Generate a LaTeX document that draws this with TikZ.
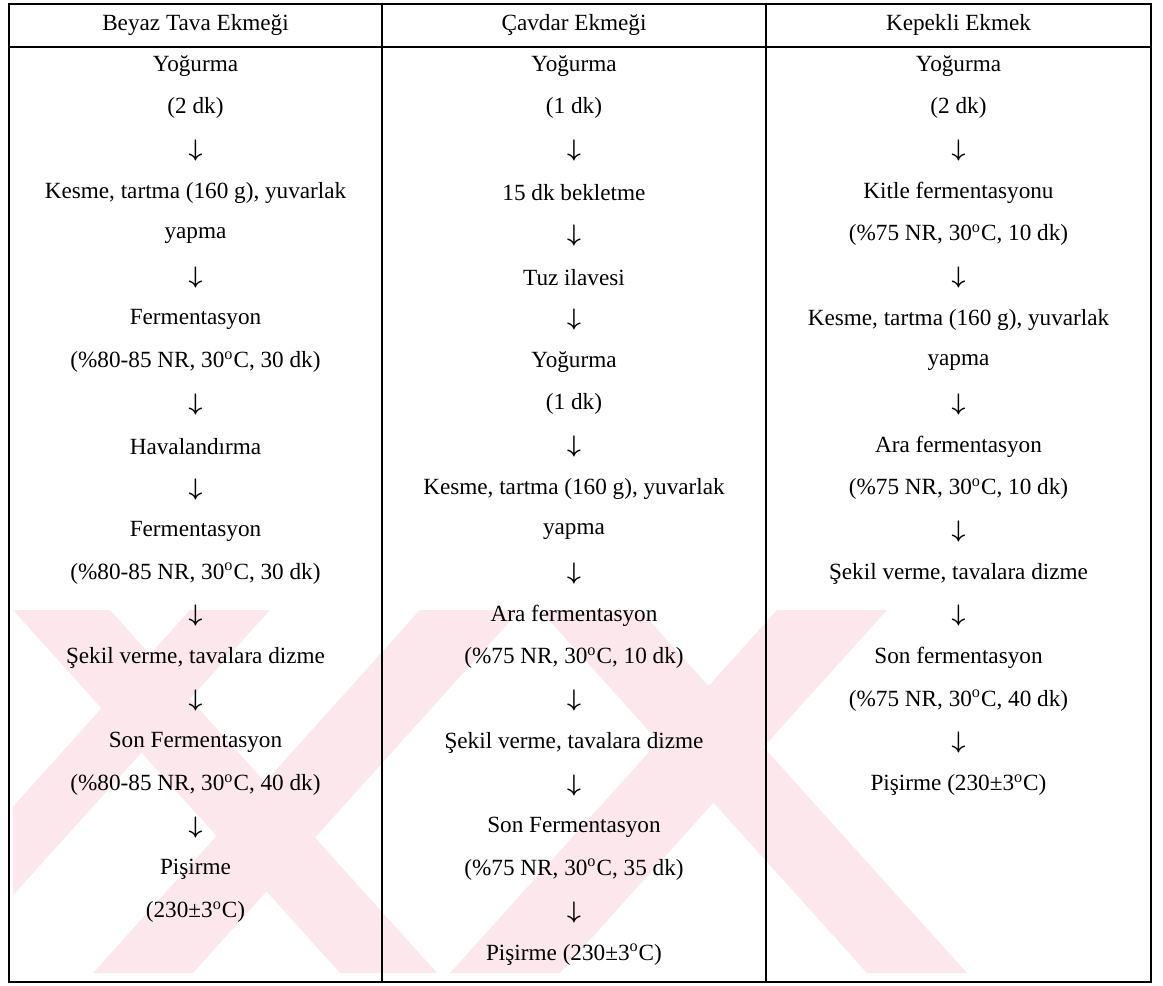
\documentclass[tikz,border=0pt]{standalone}
\usepackage{fontspec}
\setmainfont{Liberation Serif}
\usepackage{amsmath}
\usetikzlibrary{positioning}
\definecolor{wmpink}{RGB}{252,232,236}
\newcommand{\dnarrow}{$\boldsymbol{\downarrow}$}

\begin{document}
\begin{tikzpicture}[x=0.5pt,y=-0.5pt]
        % one unit = one pixel of the scanned table, rows 42.3 apart
        \tikzstyle{every node}=[font=\fontsize{11.6}{14}\selectfont, inner sep=0pt, node distance=21.15pt]
        \tikzstyle{wmband}=[fill=wmpink, draw=none]
        \useasboundingbox (0,0) rectangle (1163,986);

        % watermark stripes
        \begin{scope}
                \clip (13,610) rectangle (1000,973);
                \fill[wmband] (13,610) -- (110,610) -- (437,973) -- (340,973) -- cycle;
                \fill[wmband] (420,610) -- (520,610) -- (193,973) -- (93,973) -- cycle;
                \fill[wmband] (190,610) -- (270,610) -- (-57,973) -- (-137,973) -- cycle;
                \fill[wmband] (540,610) -- (640,610) -- (967,973) -- (867,973) -- cycle;
                \fill[wmband] (777,610) -- (887,610) -- (560,973) -- (450,973) -- cycle;
        \end{scope}

        % table frame
        \draw[line width=0.8pt] (9,4) rectangle (1151,982);
        \draw[line width=0.8pt] (9,47) -- (1151,47);
        \draw[line width=0.8pt] (382,4) -- (382,982);
        \draw[line width=0.8pt] (766,4) -- (766,982);

        % headers
        \node (H1) at (195.5,25) {Beyaz Tava Ekmeği};
        \node (H2) at (574,25) {Çavdar Ekmeği};
        \node (H3) at (958.5,25) {Kepekli Ekmek};

        % Beyaz Tava Ekmegi
        \node (A0) at (195.5,66) {Yoğurma};
        \node (A1) [below of = A0] {(2 dk)};
        \node (A2) [below of = A1] {\dnarrow};
        \node (A3) [below of = A2] {Kesme, tartma (160 g), yuvarlak};
        \node (A4) [below of = A3] {yapma};
        \node (A5) [below of = A4] {\dnarrow};
        \node (A6) [below of = A5] {Fermentasyon};
        \node (A7) [below of = A6] {(\%80-85 NR, 30\textsuperscript{o}C, 30 dk)};
        \node (A8) [below of = A7] {\dnarrow};
        \node (A9) [below of = A8] {Havalandırma};
        \node (A10) [below of = A9] {\dnarrow};
        \node (A11) [below of = A10] {Fermentasyon};
        \node (A12) [below of = A11] {(\%80-85 NR, 30\textsuperscript{o}C, 30 dk)};
        \node (A13) [below of = A12] {\dnarrow};
        \node (A14) [below of = A13] {Şekil verme, tavalara dizme};
        \node (A15) [below of = A14] {\dnarrow};
        \node (A16) [below of = A15] {Son Fermentasyon};
        \node (A17) [below of = A16] {(\%80-85 NR, 30\textsuperscript{o}C, 40 dk)};
        \node (A18) [below of = A17] {\dnarrow};
        \node (A19) [below of = A18] {Pişirme};
        \node (A20) [below of = A19] {(230±3\textsuperscript{o}C)};

        % Cavdar Ekmegi
        \node (B0) at (574,66) {Yoğurma};
        \node (B1) [below of = B0] {(1 dk)};
        \node (B2) [below of = B1] {\dnarrow};
        \node (B3) [below of = B2] {15 dk bekletme};
        \node (B4) [below of = B3] {\dnarrow};
        \node (B5) [below of = B4] {Tuz ilavesi};
        \node (B6) [below of = B5] {\dnarrow};
        \node (B7) [below of = B6] {Yoğurma};
        \node (B8) [below of = B7] {(1 dk)};
        \node (B9) [below of = B8] {\dnarrow};
        \node (B10) [below of = B9] {Kesme, tartma (160 g), yuvarlak};
        \node (B11) [below of = B10] {yapma};
        \node (B12) [below of = B11] {\dnarrow};
        \node (B13) [below of = B12] {Ara fermentasyon};
        \node (B14) [below of = B13] {(\%75 NR, 30\textsuperscript{o}C, 10 dk)};
        \node (B15) [below of = B14] {\dnarrow};
        \node (B16) [below of = B15] {Şekil verme, tavalara dizme};
        \node (B17) [below of = B16] {\dnarrow};
        \node (B18) [below of = B17] {Son Fermentasyon};
        \node (B19) [below of = B18] {(\%75 NR, 30\textsuperscript{o}C, 35 dk)};
        \node (B20) [below of = B19] {\dnarrow};
        \node (B21) [below of = B20] {Pişirme (230±3\textsuperscript{o}C)};

        % Kepekli Ekmek
        \node (C0) at (958.5,66) {Yoğurma};
        \node (C1) [below of = C0] {(2 dk)};
        \node (C2) [below of = C1] {\dnarrow};
        \node (C3) [below of = C2] {Kitle fermentasyonu};
        \node (C4) [below of = C3] {(\%75 NR, 30\textsuperscript{o}C, 10 dk)};
        \node (C5) [below of = C4] {\dnarrow};
        \node (C6) [below of = C5] {Kesme, tartma (160 g), yuvarlak};
        \node (C7) [below of = C6] {yapma};
        \node (C8) [below of = C7] {\dnarrow};
        \node (C9) [below of = C8] {Ara fermentasyon};
        \node (C10) [below of = C9] {(\%75 NR, 30\textsuperscript{o}C, 10 dk)};
        \node (C11) [below of = C10] {\dnarrow};
        \node (C12) [below of = C11] {Şekil verme, tavalara dizme};
        \node (C13) [below of = C12] {\dnarrow};
        \node (C14) [below of = C13] {Son fermentasyon};
        \node (C15) [below of = C14] {(\%75 NR, 30\textsuperscript{o}C, 40 dk)};
        \node (C16) [below of = C15] {\dnarrow};
        \node (C17) [below of = C16] {Pişirme (230±3\textsuperscript{o}C)};
\end{tikzpicture}
\end{document}
